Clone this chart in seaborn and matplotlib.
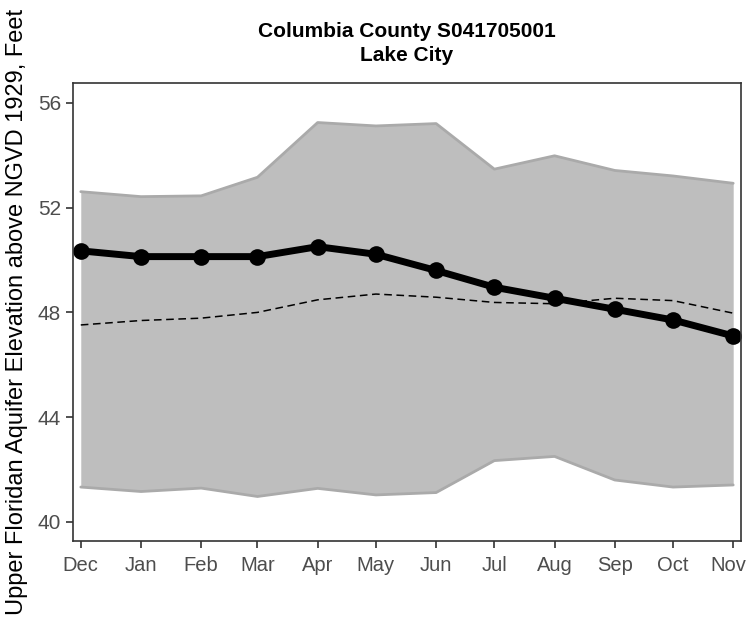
import pandas as pd
import seaborn as sns
import matplotlib.pyplot as plt
import matplotlib.transforms as mtrans

# monthly values
months = ["2015-12-01", "2016-01-01", "2016-02-01", "2016-03-01", "2016-04-01", "2016-05-01",
          "2016-06-01", "2016-07-01", "2016-08-01", "2016-09-01", "2016-10-01", "2016-11-01"]
month_labels = ["Dec", "Jan", "Feb", "Mar", "Apr", "May", "Jun", "Jul", "Aug", "Sep", "Oct", "Nov"]
current = [50.35, 50.13, 50.13, 50.13, 50.51, 50.22, 49.60, 48.96, 48.54, 48.12, 47.71, 47.10]
band_max = [52.61, 52.42, 52.45, 53.16, 55.25, 55.12, 55.21, 53.47, 53.98, 53.42, 53.21, 52.93]
band_min = [41.33, 41.16, 41.29, 40.97, 41.28, 41.03, 41.12, 42.34, 42.50, 41.60, 41.33, 41.41]
median = [47.52, 47.69, 47.78, 48.00, 48.48, 48.70, 48.58, 48.38, 48.33, 48.54, 48.45, 47.97]

df = pd.DataFrame({"date": pd.to_datetime(months), "current": current,
                   "hi": band_max, "lo": band_min, "median": median})

sns.set_style("ticks")
plt.rcParams["font.family"] = ["Liberation Sans", "DejaVu Sans"]

fig = plt.figure(figsize=(7.48, 6.23), dpi=100)
ax = fig.add_axes([0.0976, 0.1316, 0.893, 0.7352])

ax.fill_between(df["date"], df["lo"], df["hi"], color="#bebebe", lw=0)
sns.lineplot(data=df, x="date", y="hi", color="#aaaaaa", lw=2, ax=ax)
sns.lineplot(data=df, x="date", y="lo", color="#aaaaaa", lw=2, ax=ax)
sns.lineplot(data=df, x="date", y="median", color="black", lw=1.1, ax=ax,
             linestyle=(0, (5, 3)))
sns.lineplot(data=df, x="date", y="current", color="black", lw=5, ax=ax,
             marker="o", markersize=12, markeredgewidth=0)

pad = pd.Timedelta(days=4)
ax.set_xlim(df["date"].iloc[0] - pad, df["date"].iloc[-1] + pad)
ax.set_ylim(39.27, 56.76)
ax.set_yticks([40, 44, 48, 52, 56])
ax.set_xticks(df["date"])
ax.set_xticklabels(month_labels)

for s in ax.spines.values():
    s.set_visible(True)
    s.set_color("#333333")
    s.set_linewidth(1.2)
ax.tick_params(axis="both", colors="#333333", length=5, width=1.2,
               labelsize=15, labelcolor="#4d4d4d")
ax.tick_params(axis="x", pad=6, labelsize=14.5)

# last month label sits against the right edge, nudge it in a little
last = ax.get_xticklabels()[-1]
last.set_transform(last.get_transform() + mtrans.ScaledTranslation(-5 / 100, 0, fig.dpi_scale_trans))

ax.set_xlabel("")
ax.set_ylabel("Upper Floridan Aquifer Elevation above NGVD 1929, Feet",
              fontsize=17, color="black", labelpad=7)
ax.set_title("Columbia County S041705001\nLake City", fontsize=15,
             fontweight="bold", pad=16, linespacing=1.3, color="black")

fig.savefig("out.png", dpi=100)
